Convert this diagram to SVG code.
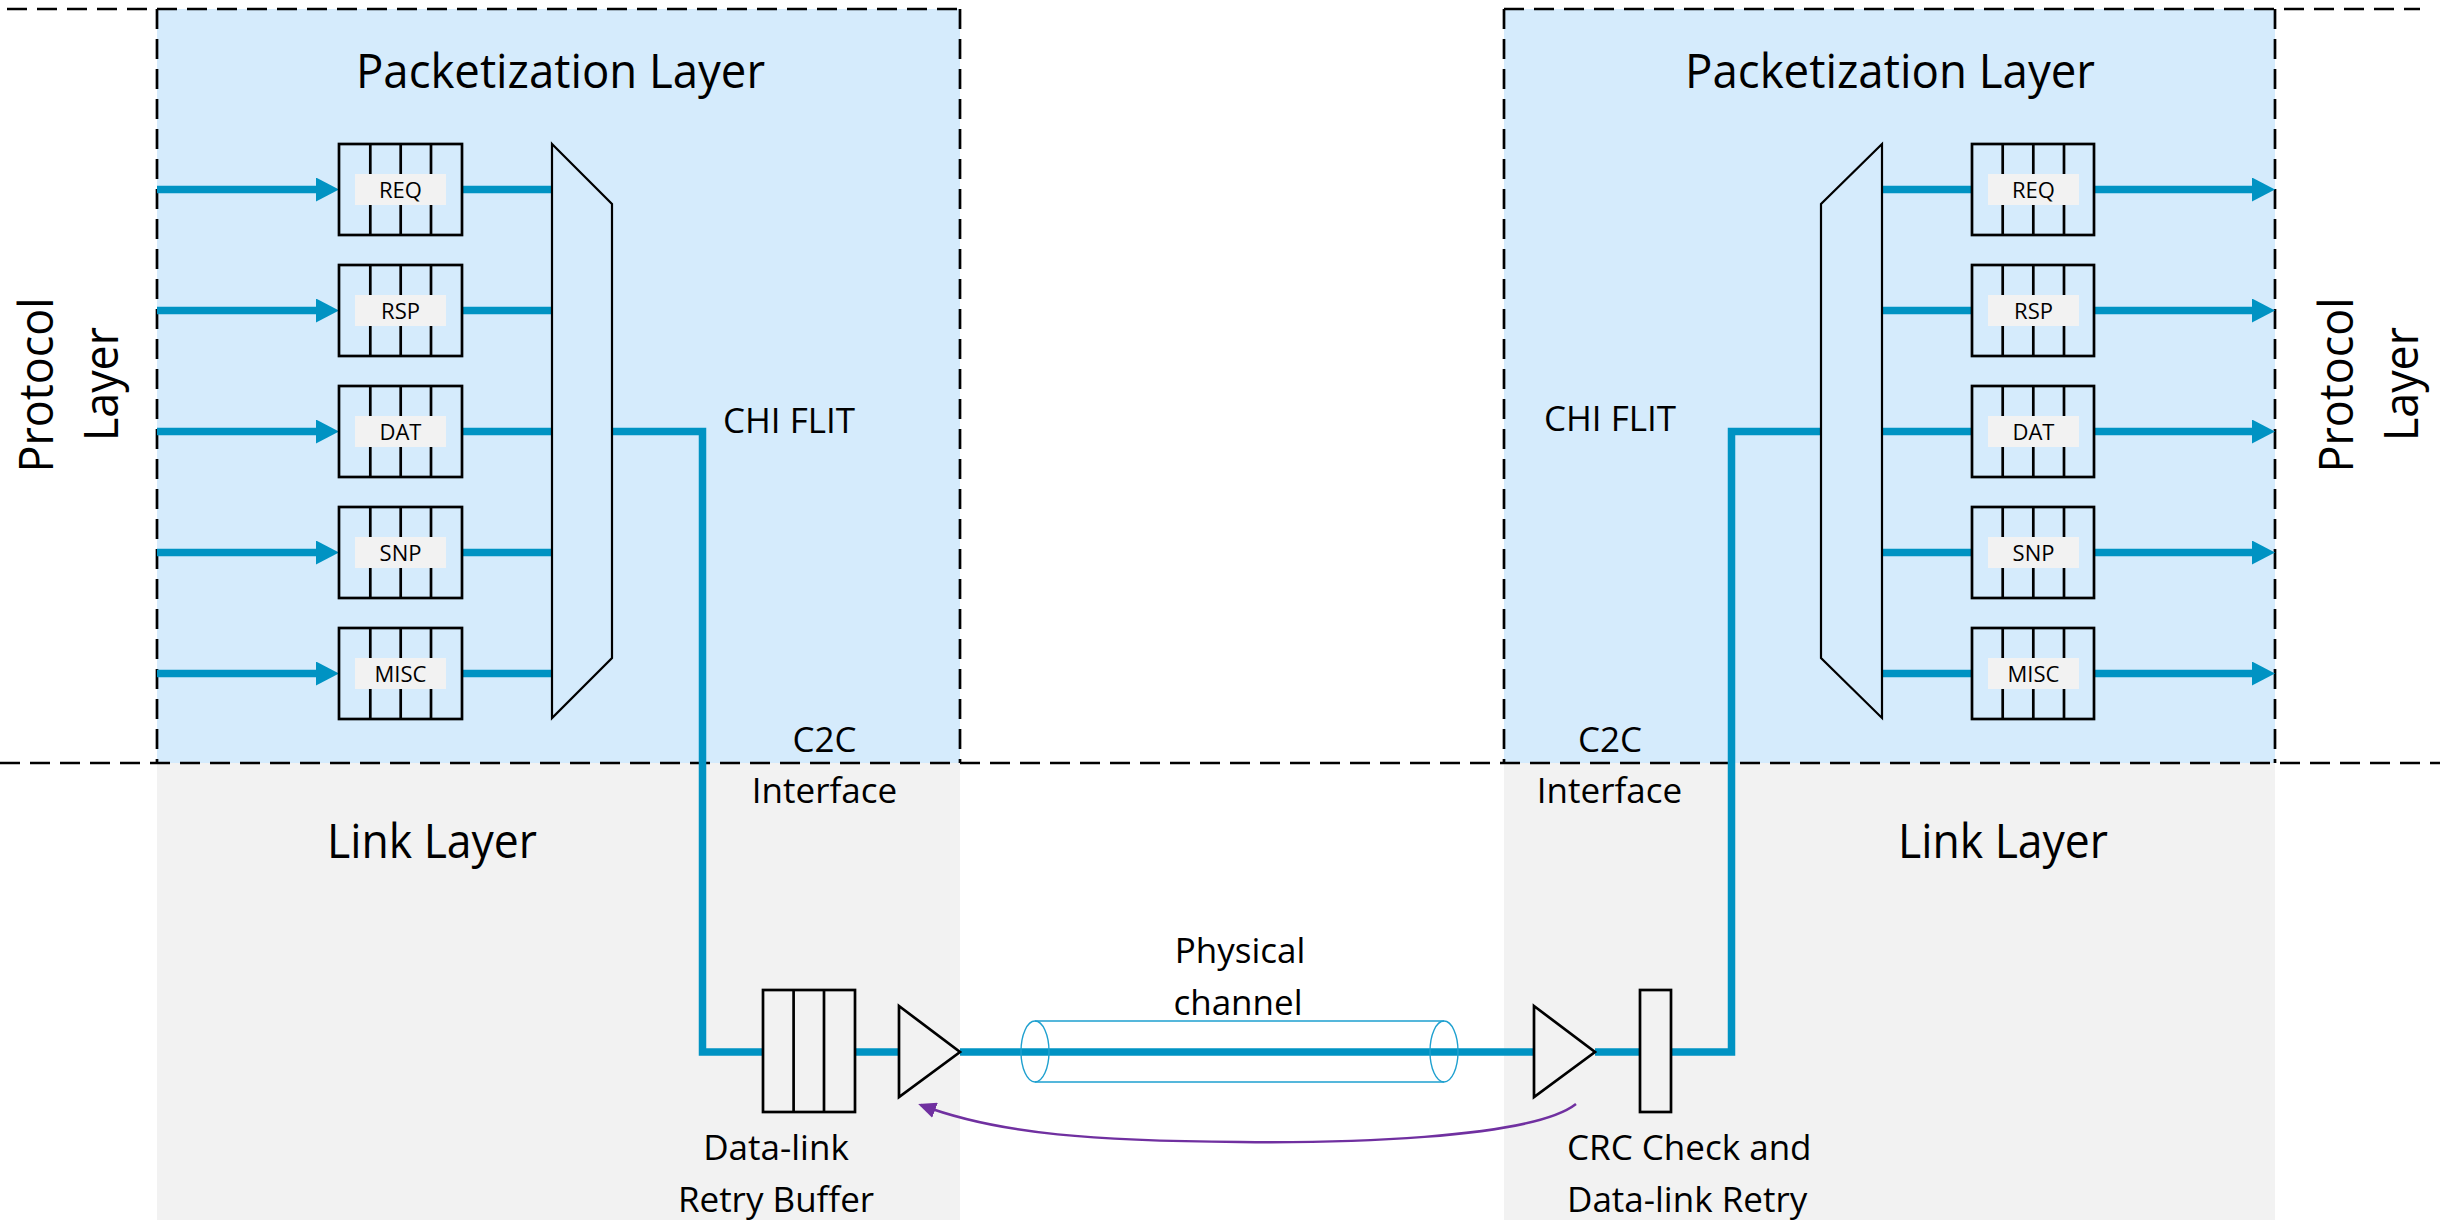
<svg xmlns="http://www.w3.org/2000/svg" width="2440" height="1220" viewBox="0 0 2440 1220">
<defs>
<style>
.bg{fill:#ffffff}
.pkt{fill:#D5EBFC}
.lnk{fill:#F2F2F2}
.dash{fill:none;stroke:#000;stroke-width:2.7;stroke-dasharray:20 10}
.q{fill:none;stroke:#000;stroke-width:2.7}
.lbl{fill:#F2F2F2}
.mux{fill:none;stroke:#000;stroke-width:2.2}
.wire{fill:none;stroke:#0093C3;stroke-width:7.5}
.cyl{fill:none;stroke:#1EA0CF;stroke-width:1.4}
.ret{fill:none;stroke:#7030A0;stroke-width:2.5}
text{font-family:"Open Sans","Liberation Sans",sans-serif;fill:#000}
.big{font-size:48px}
.mid{font-size:35px}
.sm{font-size:22px;text-anchor:middle}
</style>
<marker id="ab" markerUnits="userSpaceOnUse" markerWidth="24" markerHeight="24" viewBox="0 0 23 24" refX="2" refY="12" orient="auto">
<path d="M0,0 L23,12 L0,24 Z" fill="#0093C3"/>
</marker>
<marker id="ap" markerUnits="userSpaceOnUse" markerWidth="18" markerHeight="16" viewBox="0 0 18 16" refX="15" refY="8" orient="auto">
<path d="M0,0 L18,8 L0,16 Z" fill="#7030A0"/>
</marker>
</defs>
<rect class="bg" x="0" y="0" width="2440" height="1220"/>

<g id="regions">
<rect class="pkt" x="157" y="9" width="803" height="754"/>
<rect class="pkt" x="1504" y="9" width="771" height="754"/>
<rect class="lnk" x="157" y="763" width="803" height="457"/>
<rect class="lnk" x="1504" y="763" width="771" height="457"/>
<path class="dash" d="M7,9 H960 M1504,9 H2420 M157,9 V763 M960,9 V763 M1504,9 V763 M2275,9 V763 M0,763 H2440"/>
</g>

<g id="labels">
<text class="big" x="560.5" y="88" text-anchor="middle" textLength="409" lengthAdjust="spacingAndGlyphs">Packetization Layer</text>
<text class="big" x="1890" y="88" text-anchor="middle" textLength="410" lengthAdjust="spacingAndGlyphs">Packetization Layer</text>
<text class="big" transform="translate(53,385) rotate(-90)" x="0" y="0" text-anchor="middle" textLength="175" lengthAdjust="spacingAndGlyphs">Protocol</text>
<text class="big" transform="translate(118,384) rotate(-90)" x="0" y="0" text-anchor="middle" textLength="114" lengthAdjust="spacingAndGlyphs">Layer</text>
<text class="big" transform="translate(2353,385) rotate(-90)" x="0" y="0" text-anchor="middle" textLength="175" lengthAdjust="spacingAndGlyphs">Protocol</text>
<text class="big" transform="translate(2418,384) rotate(-90)" x="0" y="0" text-anchor="middle" textLength="114" lengthAdjust="spacingAndGlyphs">Layer</text>
<text class="big" x="432" y="858" text-anchor="middle" textLength="210" lengthAdjust="spacingAndGlyphs">Link Layer</text>
<text class="big" x="2003" y="858" text-anchor="middle" textLength="210" lengthAdjust="spacingAndGlyphs">Link Layer</text>
<text class="mid" x="723" y="433">CHI FLIT</text>
<text class="mid" x="1544" y="431">CHI FLIT</text>
<text class="mid" x="824.5" y="752" text-anchor="middle">C2C</text>
<text class="mid" x="824.5" y="803" text-anchor="middle">Interface</text>
<text class="mid" x="1610" y="752" text-anchor="middle">C2C</text>
<text class="mid" x="1609.5" y="803" text-anchor="middle">Interface</text>
<text class="mid" x="1240" y="963" text-anchor="middle">Physical</text>
<text class="mid" x="1238" y="1015" text-anchor="middle">channel</text>
<text class="mid" x="776" y="1160" text-anchor="middle">Data-link</text>
<text class="mid" x="776" y="1212" text-anchor="middle">Retry Buffer</text>
<text class="mid" x="1567" y="1160">CRC Check and</text>
<text class="mid" x="1567" y="1212">Data-link Retry</text>
</g>

<g id="connectors">
<path class="wire" marker-end="url(#ab)" d="M157,189.5 H318"/>
<path class="wire" marker-end="url(#ab)" d="M157,310.5 H318"/>
<path class="wire" marker-end="url(#ab)" d="M157,431.5 H318"/>
<path class="wire" marker-end="url(#ab)" d="M157,552.5 H318"/>
<path class="wire" marker-end="url(#ab)" d="M157,673.5 H318"/>
<path class="wire" d="M462,189.5 H552 M462,310.5 H552 M462,431.5 H552 M462,552.5 H552 M462,673.5 H552"/>
<path class="wire" d="M1882,189.5 H1972 M1882,310.5 H1972 M1882,431.5 H1972 M1882,552.5 H1972 M1882,673.5 H1972"/>
<path class="wire" marker-end="url(#ab)" d="M2094,189.5 H2254"/>
<path class="wire" marker-end="url(#ab)" d="M2094,310.5 H2254"/>
<path class="wire" marker-end="url(#ab)" d="M2094,431.5 H2254"/>
<path class="wire" marker-end="url(#ab)" d="M2094,552.5 H2254"/>
<path class="wire" marker-end="url(#ab)" d="M2094,673.5 H2254"/>
<path class="wire" d="M612,431.5 H702.5 V1052 H763"/>
<path class="wire" d="M855,1052 H899"/>
<path class="wire" d="M960,1052 H1534"/>
<path class="wire" d="M1595,1052 H1640"/>
<path class="wire" d="M1671,1052 H1731.5 V431.5 H1821"/>
<path class="ret" marker-end="url(#ap)" d="M1576,1104 C1530,1140 1330,1143 1240,1142 C1100,1141 1000,1135 921,1105"/>
</g>

<g id="left-queues">
<g id="q-req-l"><rect class="q" x="339" y="144" width="123" height="91"/><path class="q" d="M370.3,144 V235 M400.7,144 V235 M431,144 V235"/><rect class="lbl" x="355" y="174" width="91" height="31"/><text class="sm" x="400.5" y="197.5">REQ</text></g>
<g id="q-rsp-l"><rect class="q" x="339" y="265" width="123" height="91"/><path class="q" d="M370.3,265 V356 M400.7,265 V356 M431,265 V356"/><rect class="lbl" x="355" y="295" width="91" height="31"/><text class="sm" x="400.5" y="318.5">RSP</text></g>
<g id="q-dat-l"><rect class="q" x="339" y="386" width="123" height="91"/><path class="q" d="M370.3,386 V477 M400.7,386 V477 M431,386 V477"/><rect class="lbl" x="355" y="416" width="91" height="31"/><text class="sm" x="400.5" y="439.5">DAT</text></g>
<g id="q-snp-l"><rect class="q" x="339" y="507" width="123" height="91"/><path class="q" d="M370.3,507 V598 M400.7,507 V598 M431,507 V598"/><rect class="lbl" x="355" y="537" width="91" height="31"/><text class="sm" x="400.5" y="560.5">SNP</text></g>
<g id="q-misc-l"><rect class="q" x="339" y="628" width="123" height="91"/><path class="q" d="M370.3,628 V719 M400.7,628 V719 M431,628 V719"/><rect class="lbl" x="355" y="658" width="91" height="31"/><text class="sm" x="400.5" y="681.5">MISC</text></g>
</g>

<g id="right-queues">
<g id="q-req-r"><rect class="q" x="1972" y="144" width="122" height="91"/><path class="q" d="M2002.7,144 V235 M2033.3,144 V235 M2064,144 V235"/><rect class="lbl" x="1988" y="174" width="91" height="31"/><text class="sm" x="2033.5" y="197.5">REQ</text></g>
<g id="q-rsp-r"><rect class="q" x="1972" y="265" width="122" height="91"/><path class="q" d="M2002.7,265 V356 M2033.3,265 V356 M2064,265 V356"/><rect class="lbl" x="1988" y="295" width="91" height="31"/><text class="sm" x="2033.5" y="318.5">RSP</text></g>
<g id="q-dat-r"><rect class="q" x="1972" y="386" width="122" height="91"/><path class="q" d="M2002.7,386 V477 M2033.3,386 V477 M2064,386 V477"/><rect class="lbl" x="1988" y="416" width="91" height="31"/><text class="sm" x="2033.5" y="439.5">DAT</text></g>
<g id="q-snp-r"><rect class="q" x="1972" y="507" width="122" height="91"/><path class="q" d="M2002.7,507 V598 M2033.3,507 V598 M2064,507 V598"/><rect class="lbl" x="1988" y="537" width="91" height="31"/><text class="sm" x="2033.5" y="560.5">SNP</text></g>
<g id="q-misc-r"><rect class="q" x="1972" y="628" width="122" height="91"/><path class="q" d="M2002.7,628 V719 M2033.3,628 V719 M2064,628 V719"/><rect class="lbl" x="1988" y="658" width="91" height="31"/><text class="sm" x="2033.5" y="681.5">MISC</text></g>
</g>

<g id="mux-left"><polygon class="mux" points="552,144 612,204 612,658 552,718"/></g>
<g id="mux-right"><polygon class="mux" points="1882,144 1821,204 1821,658 1882,718"/></g>

<g id="retry-buffer"><rect class="q" x="763" y="990" width="92" height="122"/><path class="q" d="M793.6,990 V1112 M824,990 V1112"/></g>
<g id="tx-driver"><polygon class="q" points="899,1006 960,1052 899,1097"/></g>
<g id="physical-channel">
<path class="cyl" d="M1035,1021 H1444 M1035,1082 H1444"/>
<ellipse class="cyl" cx="1035" cy="1051.5" rx="14" ry="30.5"/>
<ellipse class="cyl" cx="1444" cy="1051.5" rx="14" ry="30.5"/>
</g>
<g id="rx-driver"><polygon class="q" points="1534,1006 1595,1052 1534,1097"/></g>
<g id="crc-check"><rect class="q" x="1640" y="990" width="31" height="122"/></g>
</svg>
